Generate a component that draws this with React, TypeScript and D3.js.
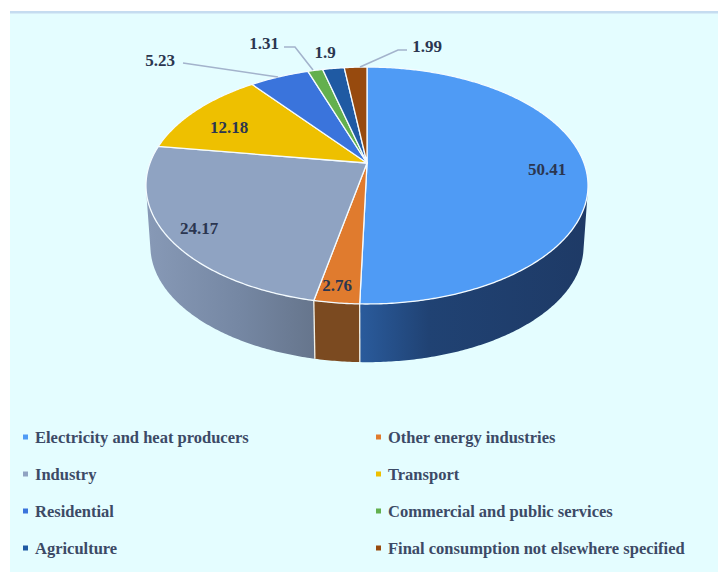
import React from "react";
import * as d3 from "d3";

const categories = [
  "Electricity and heat producers",
  "Other energy industries",
  "Industry",
  "Transport",
  "Residential",
  "Commercial and public services",
  "Agriculture",
  "Final consumption not elsewhere specified",
];
const shares = [50.41, 2.76, 24.17, 12.18, 5.23, 1.31, 1.9, 1.99];
const topColors = ["#4f9bf5", "#e07b2e", "#8fa3c2", "#eec000", "#3a74dc", "#63b04e", "#1f5aa3", "#974a0e"];
const shareLabels = ["50.41", "2.76", "24.17", "12.18", "5.23", "1.31", "1.9", "1.99"];
const labelPositions: [number, number][] = [
  [547, 169], [337, 285], [199, 228], [229, 127], [160, 60], [264, 43], [325, 52], [427, 46],
];
const leaderLines: [number, number][][] = [
  [[183, 63], [278, 77]],
  [[284, 47], [295, 47], [313, 70]],
  [[407, 50], [398, 50], [360, 67]],
];
const legendCols = [23, 376];
const legendRows = [437, 474, 511, 548];

// Perspective model of the disc: a unit circle pushed through a projective map.
const hub = { x: 367, y: 163 };
const persp = { a: 217, b: 114.2, k: 0.19 };
const rimDrop = 61;
const rimScale = 0.98;

function topPoint(t: number): [number, number] {
  const u = Math.sin(t), v = Math.cos(t), w = 1 + persp.k * v;
  return [hub.x + (persp.a * u) / w, hub.y - (persp.b * v) / w];
}
function bottomPoint(t: number): [number, number] {
  const [x, y] = topPoint(t);
  return [hub.x + (x - hub.x) * rimScale, hub.y + rimDrop + (y - hub.y) * rimScale];
}
const samples = (a: number, b: number) => {
  const n = Math.max(2, Math.ceil(Math.abs(b - a) / 0.01));
  return d3.range(n + 1).map((i) => a + ((b - a) * i) / n);
};
const line = d3.line<[number, number]>();

// Angles where the side wall's generators are tangent to the rim.
function silhouette(): [number, number] {
  const facing = (t: number) => {
    const p = topPoint(t), q = topPoint(t + 0.001), g = bottomPoint(t);
    return (q[0] - p[0]) * (g[1] - p[1]) - (q[1] - p[1]) * (g[0] - p[0]);
  };
  const grid = samples(0, Math.PI * 2);
  const flips = grid.filter((t, i) => i > 0 && facing(t) * facing(grid[i - 1]) <= 0);
  return [flips[0], flips[1]];
}

const arcs = d3.pie<number>().value((d) => d).sort(null)(shares);
const [wallStart, wallEnd] = silhouette();

function wallPath(a: number, b: number) {
  const s = samples(a, b);
  return line([...s.map(topPoint), ...s.slice().reverse().map(bottomPoint)]) + "Z";
}
function slicePath(a: number, b: number) {
  return line([[hub.x, hub.y], ...samples(a, b).map(topPoint)]) + "Z";
}

const wallFills: Record<number, string> = { 0: "url(#wallBlue)", 1: "#7b4a20", 2: "url(#wallGrey)" };
const serif = "'Liberation Serif', serif";

export default function App() {
  return (
    <svg width={718} height={572} style={{ position: "absolute", left: 0, top: 0 }}>
      <defs>
        <linearGradient id="wallBlue" gradientUnits="userSpaceOnUse" x1={360} x2={590} y1={0} y2={0}>
          <stop offset="0" stopColor="#2a5b9c" />
          <stop offset="0.3" stopColor="#204273" />
          <stop offset="1" stopColor="#1e3a66" />
        </linearGradient>
        <linearGradient id="wallGrey" gradientUnits="userSpaceOnUse" x1={148} x2={315} y1={0} y2={0}>
          <stop offset="0" stopColor="#8799b6" />
          <stop offset="0.55" stopColor="#7587a3" />
          <stop offset="1" stopColor="#66758c" />
        </linearGradient>
      </defs>
      <rect width={718} height={572} fill="#ffffff" />
      <rect x={10} y={12} width={708} height={560} fill="#e4fdff" />
      <rect x={10} y={11} width={708} height={2.5} fill="#c5dcf0" />

      {arcs.map((d, i) => {
        const a = Math.max(d.startAngle, wallStart);
        const b = Math.min(d.endAngle, wallEnd);
        return b > a ? (
          <path key={i} d={wallPath(a, b)} fill={wallFills[i] ?? topColors[i]} />
        ) : null;
      })}
      {arcs.map((d, i) =>
        d.startAngle > wallStart && d.startAngle < wallEnd ? (
          <path key={i} d={line([topPoint(d.startAngle), bottomPoint(d.startAngle)])!} stroke="#f3f1e6" strokeWidth={1.3} fill="none" />
        ) : null
      )}
      {arcs.map((d, i) => (
        <path key={i} d={slicePath(d.startAngle, d.endAngle)} fill={topColors[i]} stroke="#f4fbff" strokeWidth={1.3} strokeLinejoin="round" />
      ))}

      {leaderLines.map((pts, i) => (
        <path key={i} d={line(pts)!} fill="none" stroke="#a3b3cc" strokeWidth={1.6} />
      ))}
      {shareLabels.map((t, i) => (
        <text key={i} x={labelPositions[i][0]} y={labelPositions[i][1]} dy="0.35em" textAnchor="middle"
          fontFamily={serif} fontWeight="bold" fontSize={17} fill="#2b3650">{t}</text>
      ))}

      {categories.map((c, i) => {
        const x = legendCols[i % 2];
        const y = legendRows[Math.floor(i / 2)];
        return (
          <g key={c}>
            <rect x={x} y={y - 2.5} width={5} height={5} fill={topColors[i]} />
            <text x={x + 12} y={y} dy="0.35em" fontFamily={serif} fontWeight="bold" fontSize={16.5} fill="#3c4a66">{c}</text>
          </g>
        );
      })}
    </svg>
  );
}
